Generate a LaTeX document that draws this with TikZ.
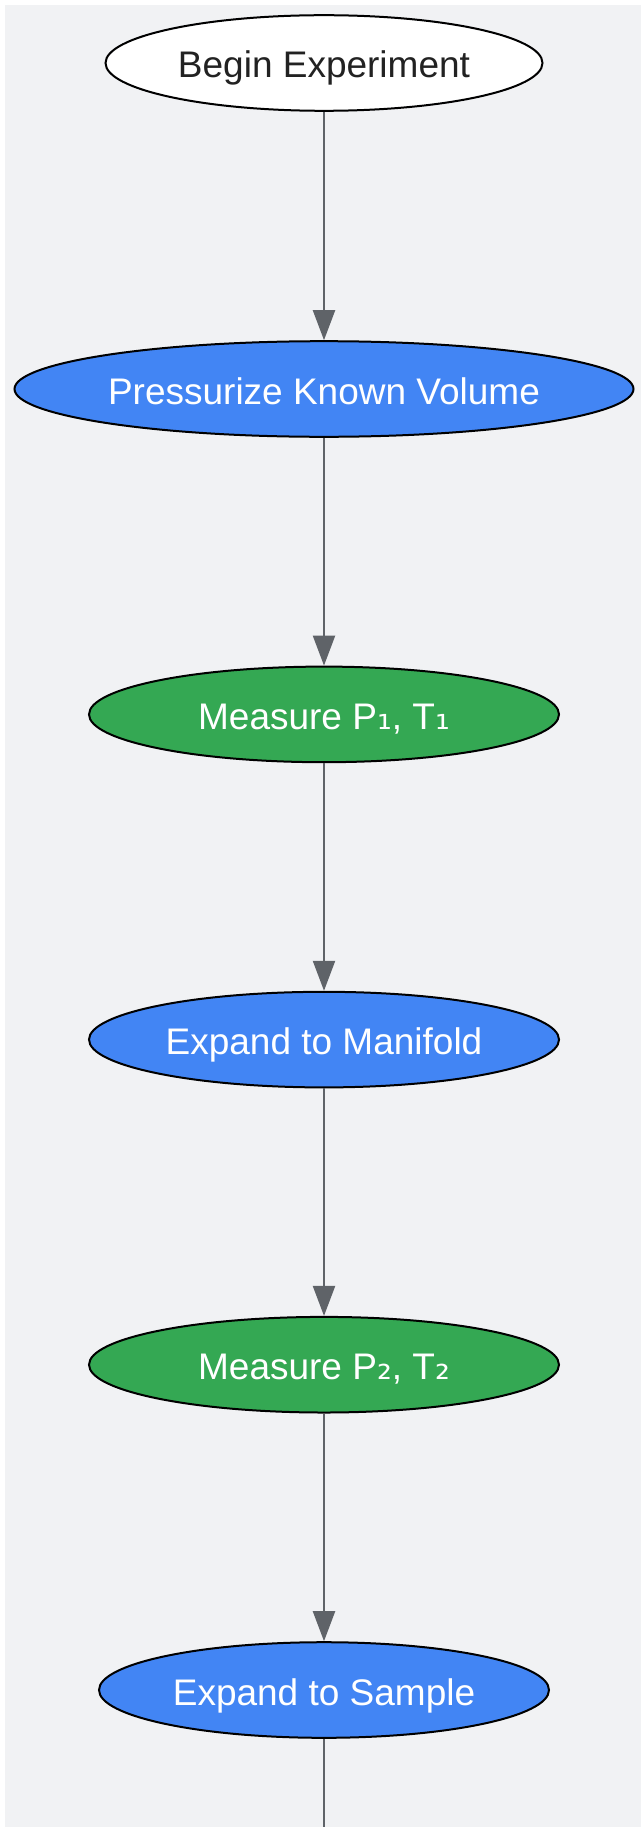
\documentclass[tikz,border=0pt]{standalone}
\usepackage{fontspec}
\setmainfont{Liberation Sans}
\newfontfamily\subfont{DejaVu Sans}
\usetikzlibrary{shapes.geometric,arrows.meta}
\definecolor{bgc}{HTML}{F1F2F4}
\definecolor{gblue}{HTML}{4285F4}
\definecolor{ggreen}{HTML}{34A853}
\definecolor{edgec}{HTML}{5F6368}
\definecolor{txtdark}{HTML}{222222}
\newcommand{\sbone}{{\subfont ₁}}
\newcommand{\sbtwo}{{\subfont ₂}}
\begin{document}
\begin{tikzpicture}[x=1pt,y=-1pt,
  stepnode/.style={ellipse,draw=black,line width=2pt,inner sep=0pt,minimum height=95.6pt,
    font=\fontsize{37}{40}\selectfont,text=white,text height=30pt,text depth=0pt},
  startnode/.style={stepnode,fill=white,text=txtdark},
  bluenode/.style={stepnode,fill=gblue},
  greennode/.style={stepnode,fill=ggreen},
  flow/.style={draw=edgec,line width=2.2pt,-{Triangle[width=22pt,length=30pt]}},
  flowend/.style={draw=edgec,line width=2.2pt}]
\useasboundingbox (0,0) rectangle (641,1827);
\fill[bgc] (4.7,4.7) rectangle (641,1827);
\node[startnode,minimum width=437pt] (n1) at (324,63) {Begin Experiment};
\node[bluenode,minimum width=619pt] (n2) at (324,389) {Pressurize Known Volume};
\node[greennode,minimum width=470pt] (n3) at (324,714.4) {Measure P\sbone, T\sbone};
\node[bluenode,minimum width=470pt] (n4) at (324,1039.6) {Expand to Manifold};
\node[greennode,minimum width=470pt] (n5) at (324,1364.7) {Measure P\sbtwo, T\sbtwo};
\node[bluenode,minimum width=450pt] (n6) at (324,1690) {Expand to Sample};
\coordinate (bottom) at (324,1827);
\draw[flow] (n1) -- (n2);
\draw[flow] (n2) -- (n3);
\draw[flow] (n3) -- (n4);
\draw[flow] (n4) -- (n5);
\draw[flow] (n5) -- (n6);
\draw[flowend] (n6) -- (bottom);
\end{tikzpicture}
\end{document}
